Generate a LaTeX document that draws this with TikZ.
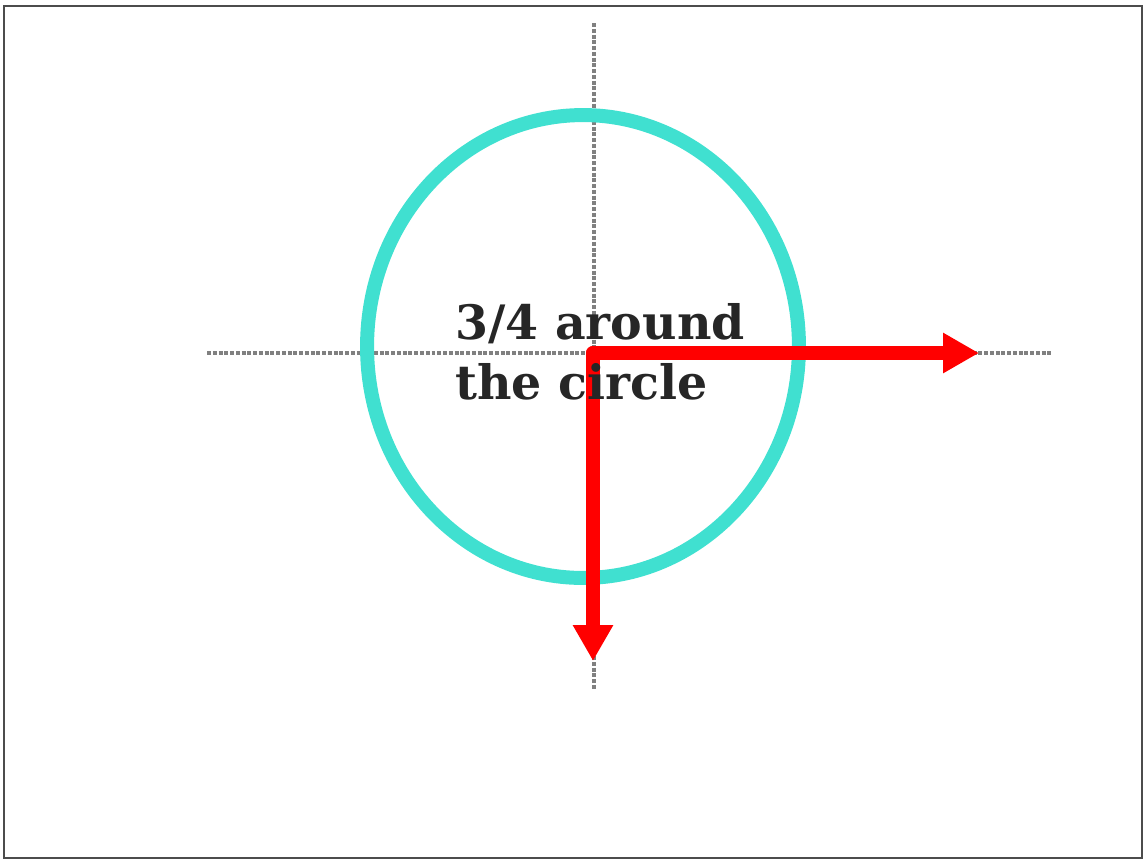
\documentclass[tikz,border=0pt]{standalone}
\usepackage{fontspec}
\newfontfamily\chalkfont{DejaVu Serif}
\usetikzlibrary{arrows.meta,shapes.geometric}
\definecolor{turq}{RGB}{64,224,208}
\tikzset{
  axis/.style={draw=gray, line width=0.08cm, densely dotted},
  ring/.style={draw=turq, line width=0.28cm},
  turn/.style={draw=red, line width=0.28cm, line cap=round, -{Triangle[length=0.72cm, width=0.76cm]}}
}
\begin{document}
\begin{tikzpicture}[x=0.02cm, y=-0.02cm]
\useasboundingbox (0,0) rectangle (1145,860);
\draw[black!70, line width=0.04cm] (4,6) rectangle (1142,858);

\coordinate (o) at (593,353);
\coordinate (xl) at (207,353);
\coordinate (xr) at (1052,353);
\coordinate (yt) at (594,23);
\coordinate (yb) at (594,690);
\coordinate (px) at (979,353);
\coordinate (py) at (593,661);

\draw[axis] (xl) -- (xr);
\draw[axis] (yt) -- (yb);

\node[ring, ellipse, minimum width=8.64cm, minimum height=9.26cm, inner sep=0] (c) at (583,346.5) {};

\draw[turn] (o) -- (px);
\draw[turn] (o) -- (py);

\node[anchor=west, align=left, inner sep=0, text=black!85, font=\chalkfont\bfseries\fontsize{27}{34}\selectfont] (lbl) at (455,352) {3/4 around\\the circle};
\end{tikzpicture}
\end{document}
